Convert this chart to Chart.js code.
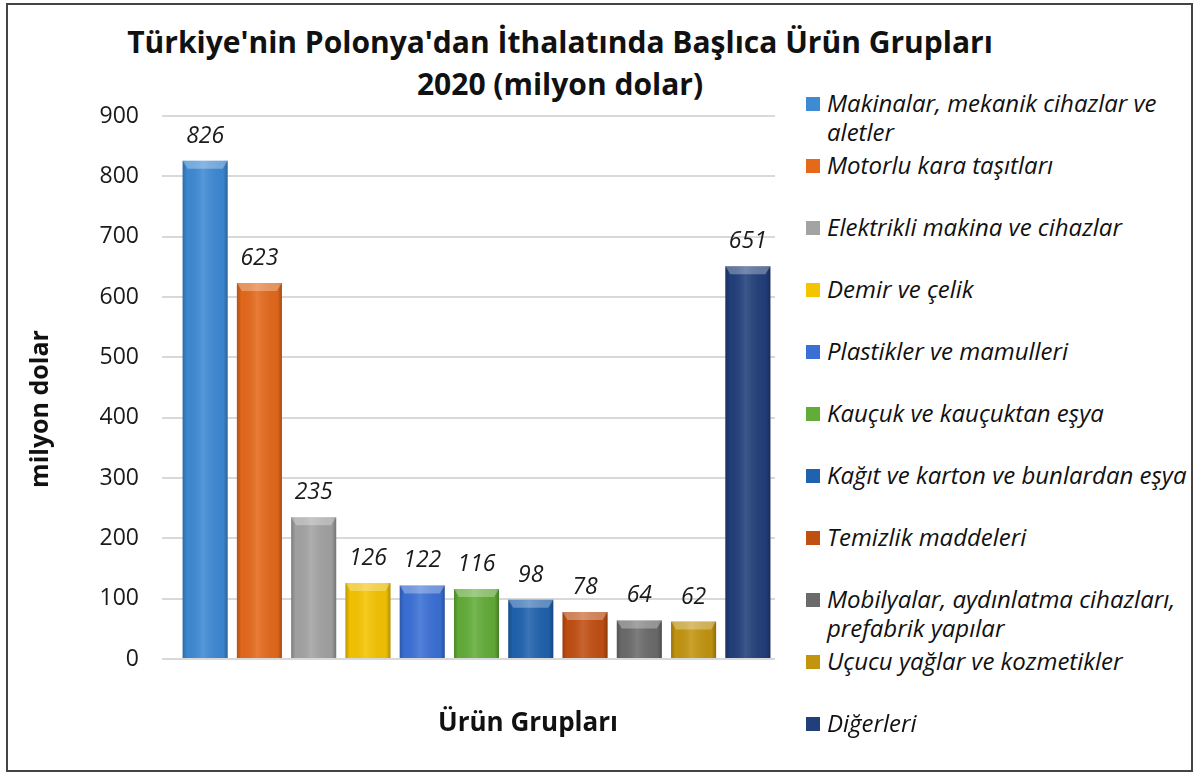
<!DOCTYPE html>
<html lang="tr">
<head>
<meta charset="utf-8">
<title>Türkiye'nin Polonya'dan İthalatında Başlıca Ürün Grupları</title>
<script src="https://cdn.jsdelivr.net/npm/chart.js@4"></script>
<style>
  html, body { margin: 0; padding: 0; background: #fff; }
  body { width: 1197px; height: 776px; position: relative; overflow: hidden; font-family: "Open Sans", sans-serif; }
  #frame { position: absolute; left: 6px; top: 3px; width: 1183px; height: 765px; border: 2px solid #444; }
  #chart { position: absolute; left: 7px; top: 4px; }
  .title { position: absolute; left: 0; width: 1120px; text-align: center; font-weight: bold; font-size: 30px; color: #111; line-height: 1; }
  #xtitle { position: absolute; left: 400px; width: 256px; text-align: center; top: 703px; font-weight: bold; font-size: 26px; color: #111; }
  #ytitle { position: absolute; left: -62px; top: 393px; width: 200px; text-align: center; font-weight: bold; font-size: 25px; color: #111; line-height: 32px; transform: rotate(-90deg); }
  #legend { position: absolute; left: 806px; top: 0; }
  .item { position: absolute; left: 0; white-space: nowrap; font-style: italic; font-size: 24px; color: #111; line-height: 29px; }
  .sw { position: absolute; left: 0; top: 8px; width: 14px; height: 14px; }
  .txt { position: absolute; left: 21px; top: -1px; }
</style>
</head>
<body>
<div id="frame"></div>
<div class="title" style="top:27px">Türkiye'nin Polonya'dan İthalatında Başlıca Ürün Grupları</div>
<div class="title" style="top:69px">2020 (milyon dolar)</div>
<canvas id="chart" width="790" height="766"></canvas>
<div id="ytitle">milyon dolar</div>
<div id="xtitle">Ürün Grupları</div>
<div id="legend"></div>
<script>
// ürün grupları
const categories = [
    ['Makinalar, mekanik cihazlar ve', 'aletler'],
    'Motorlu kara taşıtları',
    'Elektrikli makina ve cihazlar',
    'Demir ve çelik',
    'Plastikler ve mamulleri',
    'Kauçuk ve kauçuktan eşya',
    'Kağıt ve karton ve bunlardan eşya',
    'Temizlik maddeleri',
    ['Mobilyalar, aydınlatma cihazları,', 'prefabrik yapılar'],
    'Uçucu yağlar ve kozmetikler',
    'Diğerleri'
];
// milyon dolar
const values = [826, 623, 235, 126, 122, 116, 98, 78, 64, 62, 651];
const barColors = ['#3d8ad5', '#e5691b', '#a3a3a3', '#f5c400', '#3a70d6', '#62ad38', '#1f62ae', '#c24f12', '#6b6b6b', '#c3950f', '#213f7b'];
const yTicks = { min: 0, max: 900, step: 100 };

// Excel tarzı kabartma efekti + değer etiketleri
const barDecor = {
    id: 'barDecor',
    afterDatasetsDraw(chart) {
        const ctx = chart.ctx;
        const meta = chart.getDatasetMeta(0);
        meta.data.forEach((bar, i) => {
            const left = bar.x - bar.width / 2;
            const right = bar.x + bar.width / 2;
            const top = bar.y;
            const h = bar.base - bar.y;
            ctx.save();
            const g = ctx.createLinearGradient(left, 0, right, 0);
            g.addColorStop(0, 'rgba(0,0,0,0.22)');
            g.addColorStop(0.1, 'rgba(0,0,0,0.02)');
            g.addColorStop(0.45, 'rgba(255,255,255,0.12)');
            g.addColorStop(0.9, 'rgba(0,0,0,0.04)');
            g.addColorStop(1, 'rgba(0,0,0,0.28)');
            ctx.fillStyle = g;
            ctx.fillRect(left, top, bar.width, h);
            // üst kenar
            const bevel = Math.min(8, h / 2);
            ctx.beginPath();
            ctx.moveTo(left, top);
            ctx.lineTo(right, top);
            ctx.lineTo(right - 5, top + bevel);
            ctx.lineTo(left + 5, top + bevel);
            ctx.closePath();
            ctx.fillStyle = 'rgba(255,255,255,0.3)';
            ctx.fill();
            ctx.restore();

            ctx.save();
            ctx.font = 'italic 23px "Open Sans", sans-serif';
            ctx.fillStyle = '#1a1a1a';
            ctx.textAlign = 'center';
            ctx.textBaseline = 'alphabetic';
            ctx.fillText(String(values[i]), bar.x, top - 18);
            ctx.restore();
        });
    }
};

const chart = new Chart(document.getElementById('chart'), {
    type: 'bar',
    data: {
        labels: categories,
        datasets: [{
            data: values,
            backgroundColor: barColors,
            borderWidth: 0,
            barPercentage: 0.83,
            categoryPercentage: 1
        }]
    },
    options: {
        responsive: false,
        animation: false,
        layout: { padding: { top: 112, right: 22, bottom: 111, left: 0 } },
        plugins: {
            legend: { display: false },
            tooltip: { enabled: false },
            title: { display: false }
        },
        scales: {
            x: { display: false },
            y: {
                min: yTicks.min,
                max: yTicks.max,
                ticks: {
                    stepSize: yTicks.step,
                    padding: 23,
                    color: '#1a1a1a',
                    font: { family: 'Open Sans', size: 23 }
                },
                grid: { color: '#d9d9d9', lineWidth: 2, tickLength: 16 },
                border: { display: false },
                afterFit(scale) { scale.width = 171; }
            }
        }
    },
    plugins: [barDecor]
});

// sağdaki açıklama
const legendEl = document.getElementById('legend');
categories.forEach((label, i) => {
    const item = document.createElement('div');
    item.className = 'item';
    item.style.top = (89 + i * 62) + 'px';
    const sw = document.createElement('span');
    sw.className = 'sw';
    sw.style.background = barColors[i];
    const txt = document.createElement('span');
    txt.className = 'txt';
    txt.innerHTML = [].concat(label).join('<br>');
    item.appendChild(sw);
    item.appendChild(txt);
    legendEl.appendChild(item);
});
</script>
</body>
</html>
